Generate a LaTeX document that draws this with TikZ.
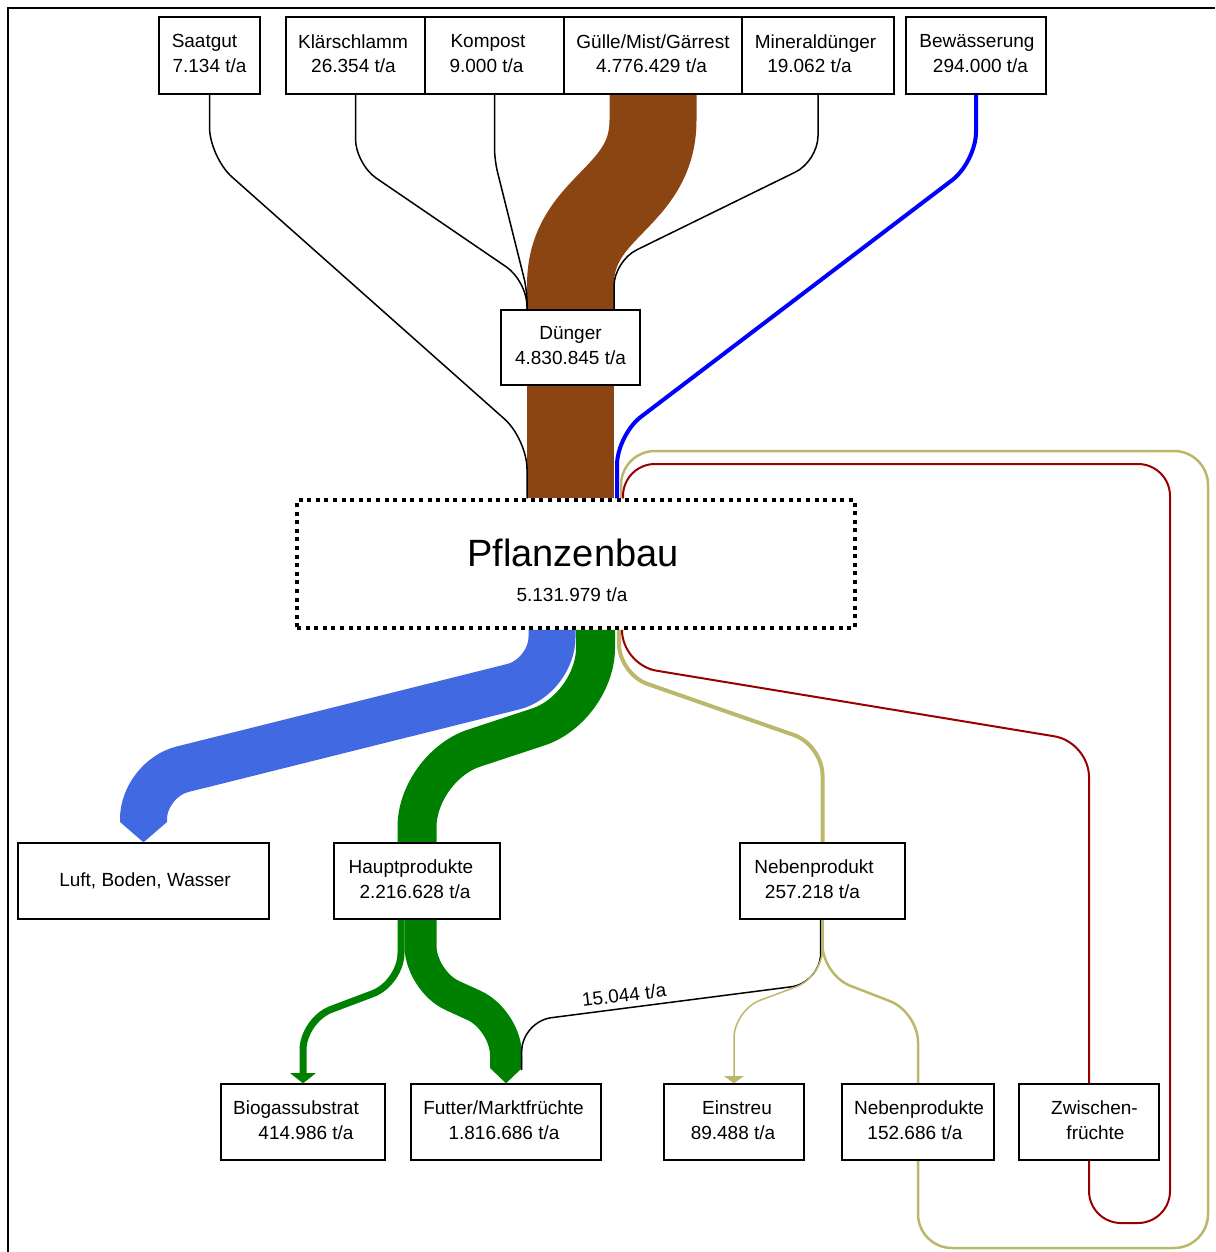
\documentclass[tikz,border=0pt]{standalone}
\usepackage{fontspec}
\setmainfont{Liberation Sans}
\usetikzlibrary{calc,backgrounds}
\newcommand\labfont{\fontsize{19}{24.5}\selectfont}
% one centred line of a label, moved sideways by #1 pt
\newcommand\shl[2]{\hbox to 0pt{\hss\kern#1pt\kern#1pt#2\hss}}
\definecolor{manure}{HTML}{8B4513}
\definecolor{losscol}{HTML}{4169E1}
\definecolor{cropgreen}{HTML}{008000}
\definecolor{strawcol}{HTML}{BDB76B}
\definecolor{catchred}{HTML}{990000}
\definecolor{watercol}{HTML}{0000FF}

\begin{document}
\begin{tikzpicture}[x=1pt,y=-1pt,
  box/.style={draw, line width=1.4pt, fill=white, align=center, font=\labfont, inner sep=0pt},
  twoline/.style={box, execute at end node={\rule[-4pt]{0pt}{4pt}}},
  topbox/.style={twoline, minimum height=77pt},
  lowbox/.style={twoline, minimum height=76pt},
  thinflow/.style={draw=black, line width=1.5pt}]
\useasboundingbox (0,0) rectangle (1215,1252);

% frame
\draw[line width=1.8pt] (1215,8) -- (8,8) -- (8,1252);

% inputs
\node[topbox, minimum width=101pt] (saat) at (209.5,55.5) {\shl{-5}{Saatgut}\\\shl{0}{7.134 t/a}};
\node[topbox, minimum width=139pt] (klaer) at (355.5,55.5) {\shl{-2.5}{Klärschlamm}\\\shl{-2}{26.354 t/a}};
\node[topbox, minimum width=139pt] (komp) at (494.5,55.5) {\shl{-6.5}{Kompost}\\\shl{-8}{9.000 t/a}};
\node[topbox, minimum width=178pt] (guelle) at (653,55.5) {\shl{0}{Gülle/Mist/Gärrest}\\\shl{-1.5}{4.776.429 t/a}};
\node[topbox, minimum width=152pt] (mineral) at (818,55.5) {\shl{-2.5}{Mineraldünger}\\\shl{-8.5}{19.062 t/a}};
\node[topbox, minimum width=140pt] (bew) at (976,55.5) {\shl{1}{Bewässerung}\\\shl{4.5}{294.000 t/a}};

\node[twoline, minimum width=139pt, minimum height=75pt] (duenger) at (570.5,347.5) {\shl{0}{Dünger}\\\shl{0}{4.830.845 t/a}};

% central process
\node[draw, line width=3.5pt, dash pattern=on 4pt off 4.6pt, fill=white,
      minimum width=558pt, minimum height=128pt] (pb) at (576,564) {};
\node[font=\fontsize{38}{40}\selectfont] (pbname) at (573,553) {Pflanzenbau};
\node[font=\labfont] (pbmass) at (572,595) {5.131.979 t/a};

% outputs
\node[box, minimum width=251pt, minimum height=76pt] (luft) at (143.5,881) {\shl{1.5}{Luft, Boden, Wasser}};
\node[lowbox, minimum width=166pt] (haupt) at (417,881) {\shl{-6}{Hauptprodukte}\\\shl{-2}{2.216.628 t/a}};
\node[lowbox, minimum width=165pt] (neben1) at (822.5,881) {\shl{-8.5}{Nebenprodukt}\\\shl{-10}{257.218 t/a}};

\node[lowbox, minimum width=164pt] (biogas) at (303,1122) {\shl{-7}{Biogassubstrat}\\\shl{3}{414.986 t/a}};
\node[lowbox, minimum width=190pt] (futter) at (506,1122) {\shl{-2.5}{Futter/Marktfrüchte}\\\shl{-2}{1.816.686 t/a}};
\node[lowbox, minimum width=140pt] (einstreu) at (734,1122) {\shl{3}{Einstreu}\\\shl{-1}{89.488 t/a}};
\node[lowbox, minimum width=152pt] (neben2) at (918,1122) {\shl{1}{Nebenprodukte}\\\shl{-3}{152.686 t/a}};
\node[lowbox, minimum width=140pt] (zwisch) at (1089,1122) {\shl{5.5}{Zwischen-}\\\shl{6.5}{früchte}};

\node[font=\labfont, rotate=7] (lbl) at (624,995) {15.044 t/a};

\begin{pgfonlayer}{background}
  % manure band through the fertiliser node
  \draw[manure, line width=87pt] (guelle.south) -- (653,120)
    .. controls (653,200) and (570.5,205) .. (570.5,285) -- (duenger.north);
  \draw[manure, line width=87pt] (duenger.south) -- (570.5,0 |- pb.north);

  % small inputs
  \draw[thinflow, rounded corners=30pt] (saat.south) -- (209.5,157) -- (527,439) -- (527,0 |- pb.north);
  \draw[thinflow, rounded corners=25pt] (klaer.south) -- (355.5,164) -- (527,281) -- (527,0 |- duenger.north);
  \draw[thinflow, rounded corners=12pt] (komp.south) -- (494.5,160) -- (527,290) -- (527,0 |- duenger.north);
  \draw[thinflow, rounded corners=25pt] (mineral.south) -- (818,161) -- (614,261) -- (614,0 |- duenger.north);

  % irrigation
  \draw[watercol, line width=4pt, rounded corners=30pt] (bew.south) -- (976,162) -- (617,435) -- (617,0 |- pb.north);

  % recycled flows (loops back into the process)
  \draw[strawcol, line width=2.5pt, rounded corners=34pt] (neben2.south) -- (918,1248) -- (1208,1248)
    -- (1208,451) -- (621,451) -- (621,0 |- pb.north);
  \draw[catchred, line width=2pt, rounded corners=32pt] (zwisch.south) -- (1089,1223) -- (1170,1223)
    -- (1170,464) -- (623,464) -- (623,0 |- pb.north);

  % losses
  \draw[losscol, line width=47pt, rounded corners=40pt] (552,0 |- pb.south) -- (552,677) -- (143.5,779) -- (143.5,822);
  \fill[losscol] (120,822) -- (167,822) -- (luft.north) -- cycle;

  % main products
  \draw[cropgreen, line width=39pt, rounded corners=60pt] (595.5,0 |- pb.south) -- (595.5,708) -- (417,767) -- (haupt.north);

  % by-products and catch crops
  \draw[strawcol, line width=4pt, rounded corners=30pt] (619,0 |- pb.south) -- (619,674) -- (822.5,745) -- (neben1.north);
  \draw[catchred, line width=2pt, rounded corners=35pt] (622,0 |- pb.south) -- (622,665) -- (1089,742) -- (zwisch.north);

  % split of the main products
  \draw[cropgreen, line width=7pt, rounded corners=30pt] (401,0 |- haupt.south) -- (401,983) -- (303,1020) -- (303,1073);
  \fill[cropgreen] (290,1073) -- (316,1073) -- (biogas.north) -- cycle;
  \draw[cropgreen, line width=32pt, rounded corners=35pt] (420.5,0 |- haupt.south) -- (420.5,981) -- (506,1020) -- (506,1068);
  \fill[cropgreen] (490,1068) -- (522,1068) -- (futter.north) -- cycle;

  % split of the by-products
  \draw[thinflow, rounded corners=30pt] (820.7,0 |- neben1.south) -- (820.7,983) -- (521.7,1021.5) -- (521.7,1070);
  \draw[strawcol, line width=1.5pt, rounded corners=28pt] (822.5,0 |- neben1.south) -- (822.5,977) -- (734,1010) -- (734,1076);
  \fill[strawcol] (724,1076) -- (744,1076) -- (einstreu.north) -- cycle;
  \draw[strawcol, line width=2.5pt, rounded corners=30pt] (822.5,0 |- neben1.south) -- (822.5,975) -- (918,1012) -- (neben2.north);
\end{pgfonlayer}
\end{tikzpicture}
\end{document}
